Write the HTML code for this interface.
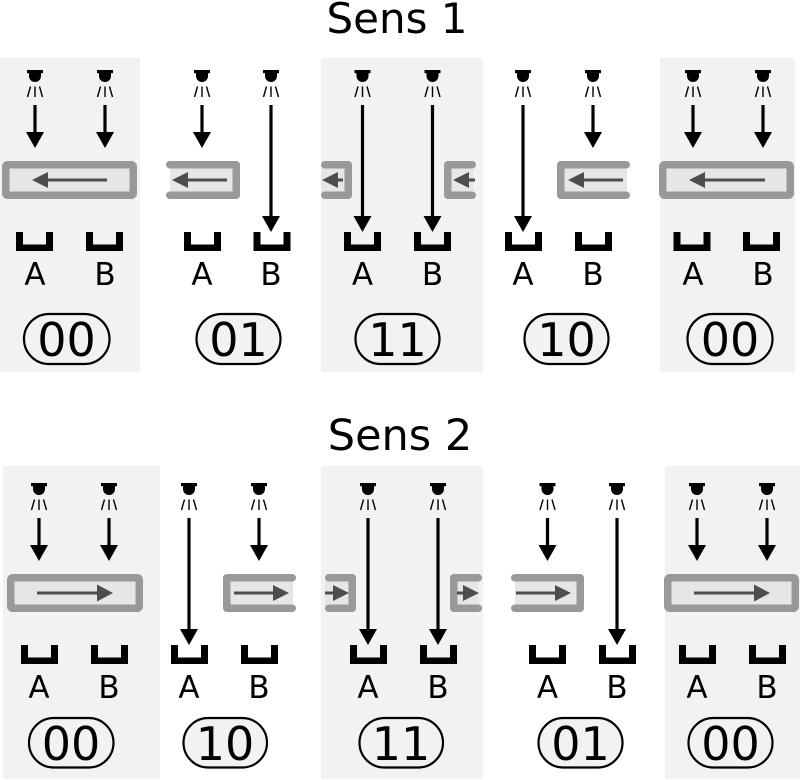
<!DOCTYPE html>
<html><head><meta charset="utf-8"><style>
html,body{margin:0;padding:0;background:#fff;}
svg{display:block;}
text{font-family:"DejaVu Sans","Liberation Sans",sans-serif;}
</style></head><body>
<svg width="800" height="780" viewBox="0 0 800 780" xmlns="http://www.w3.org/2000/svg">
<defs>
<g id="lamp">
<rect x="-8" y="0" width="16" height="3.2" fill="#000"/>
<path d="M-6,3 V6 A6,6 0 0 0 6,6 V3 Z" fill="#000"/>
<g stroke="#000" stroke-width="1.4"><line x1="-4.5" y1="16.5" x2="-7.5" y2="27"/><line x1="0" y1="16.5" x2="0" y2="27"/><line x1="4.5" y1="16.5" x2="7.5" y2="27"/></g>
</g>
<path id="sensor" d="M-18.5,0 H-11.5 V12.5 H11.5 V0 H18.5 V19 H-18.5 Z" fill="#000"/>
</defs>

<!-- gray panels -->
<g fill="#f2f2f2">
<rect x="0" y="58" width="140" height="314"/>
<rect x="321" y="58" width="162" height="314"/>
<rect x="660" y="58" width="135" height="314"/>
<rect x="3" y="466" width="157" height="313"/>
<rect x="321" y="466" width="162" height="313"/>
<rect x="665" y="466" width="135" height="313"/>
</g>

<text x="397" y="33" font-size="42" text-anchor="middle">Sens 1</text>
<text x="400" y="450" font-size="43" text-anchor="middle">Sens 2</text>

<!-- ===== TOP ROW ===== -->
<g stroke="#999" stroke-width="7.5" stroke-linejoin="round" stroke-linecap="round">
<rect x="5.75" y="164.75" width="127.5" height="30.5" rx="2" fill="#e6e6e6"/>
<rect x="170" y="166" width="66" height="28" fill="#e6e6e6" stroke="none"/>
<path d="M169.75,164.75 H236.25 V195.25 H169.75" fill="none"/>
<rect x="321" y="166" width="27" height="28" fill="#e6e6e6" stroke="none"/>
<path d="M324.75,164.75 H348.25 V195.25 H324.75" fill="none"/>
<rect x="448" y="166" width="25" height="28" fill="#e6e6e6" stroke="none"/>
<path d="M472.25,164.75 H447.75 V195.25 H472.25" fill="none"/>
<rect x="561" y="166" width="66" height="28" fill="#e6e6e6" stroke="none"/>
<path d="M626.25,164.75 H560.75 V195.25 H626.25" fill="none"/>
<rect x="662.75" y="164.75" width="127.5" height="30.5" rx="2" fill="#e6e6e6"/>
</g>
<g stroke="#4d4d4d" stroke-width="3">
<line x1="107" y1="180" x2="45" y2="180"/>
<line x1="227" y1="180" x2="185" y2="180"/>
<line x1="343" y1="180" x2="335" y2="180"/>
<line x1="475" y1="180" x2="466" y2="180"/>
<line x1="623" y1="180" x2="581" y2="180"/>
<line x1="765" y1="180" x2="702" y2="180"/>
</g>
<g fill="#4d4d4d">
<polygon points="32,180 48,172 48,188"/>
<polygon points="172,180 188,172 188,188"/>
<polygon points="322,180 338,172 338,188"/>
<polygon points="453,180 469,172 469,188"/>
<polygon points="568,180 584,172 584,188"/>
<polygon points="689,180 705,172 705,188"/>
</g>

<use href="#lamp" x="35" y="70"/><use href="#lamp" x="105" y="70"/>
<use href="#lamp" x="202" y="70"/><use href="#lamp" x="271" y="70"/>
<use href="#lamp" x="362.5" y="70"/><use href="#lamp" x="432.5" y="70"/>
<use href="#lamp" x="523" y="70"/><use href="#lamp" x="593" y="70"/>
<use href="#lamp" x="693" y="70"/><use href="#lamp" x="763" y="70"/>

<g stroke="#000" stroke-width="3.2">
<line x1="35" y1="105" x2="35" y2="134"/>
<line x1="105" y1="105" x2="105" y2="134"/>
<line x1="202" y1="105" x2="202" y2="134"/>
<line x1="271" y1="105" x2="271" y2="218"/>
<line x1="362.5" y1="105" x2="362.5" y2="218"/>
<line x1="432.5" y1="105" x2="432.5" y2="218"/>
<line x1="523" y1="105" x2="523" y2="218"/>
<line x1="593" y1="105" x2="593" y2="134"/>
<line x1="693" y1="105" x2="693" y2="134"/>
<line x1="763" y1="105" x2="763" y2="134"/>
</g>
<g fill="#000">
<polygon points="26,132 44,132 35,148"/>
<polygon points="96,132 114,132 105,148"/>
<polygon points="193,132 211,132 202,148"/>
<polygon points="262,216 280,216 271,232"/>
<polygon points="353.5,216 371.5,216 362.5,232"/>
<polygon points="423.5,216 441.5,216 432.5,232"/>
<polygon points="514,216 532,216 523,232"/>
<polygon points="584,132 602,132 593,148"/>
<polygon points="684,132 702,132 693,148"/>
<polygon points="754,132 772,132 763,148"/>
</g>

<use href="#sensor" x="34.5" y="232"/><use href="#sensor" x="104.5" y="232"/>
<use href="#sensor" x="202.5" y="232"/><use href="#sensor" x="272" y="232"/>
<use href="#sensor" x="362.5" y="232"/><use href="#sensor" x="432.5" y="232"/>
<use href="#sensor" x="523.5" y="232"/><use href="#sensor" x="593.5" y="232"/>
<use href="#sensor" x="692" y="232"/><use href="#sensor" x="761.5" y="232"/>

<g font-size="31" text-anchor="middle">
<text x="35" y="285">A</text><text x="105" y="285">B</text>
<text x="202" y="285">A</text><text x="271" y="285">B</text>
<text x="362.5" y="285">A</text><text x="432.5" y="285">B</text>
<text x="523" y="285">A</text><text x="593" y="285">B</text>
<text x="693" y="285">A</text><text x="763" y="285">B</text>
</g>

<g fill="#f2f2f2" stroke="#000" stroke-width="2.2">
<rect x="24" y="314" width="85.5" height="50" rx="25"/>
<rect x="196.5" y="314" width="84" height="50" rx="25"/>
<rect x="355.5" y="314" width="84" height="50" rx="25"/>
<rect x="524.5" y="314" width="84" height="50" rx="25"/>
<rect x="687.5" y="314" width="85" height="50" rx="25"/>
</g>
<g font-size="46" text-anchor="middle">
<text x="66.5" y="356">00</text>
<text x="238.5" y="356">01</text>
<text x="397.5" y="356">11</text>
<text x="566.5" y="356">10</text>
<text x="730" y="356">00</text>
</g>

<!-- ===== BOTTOM ROW ===== -->
<g stroke="#999" stroke-width="7.5" stroke-linejoin="round" stroke-linecap="round">
<rect x="10.75" y="577.75" width="128.5" height="30.5" rx="2" fill="#e6e6e6"/>
<rect x="227" y="579" width="66" height="28" fill="#e6e6e6" stroke="none"/>
<path d="M292.25,577.75 H226.75 V608.25 H292.25" fill="none"/>
<rect x="325" y="579" width="27" height="28" fill="#e6e6e6" stroke="none"/>
<path d="M328.75,577.75 H352.25 V608.25 H328.75" fill="none"/>
<rect x="454" y="579" width="25" height="28" fill="#e6e6e6" stroke="none"/>
<path d="M478.25,577.75 H453.75 V608.25 H478.25" fill="none"/>
<rect x="515" y="579" width="66" height="28" fill="#e6e6e6" stroke="none"/>
<path d="M514.75,577.75 H580.25 V608.25 H514.75" fill="none"/>
<rect x="667.75" y="577.75" width="127.5" height="30.5" rx="2" fill="#e6e6e6"/>
</g>
<g stroke="#4d4d4d" stroke-width="3">
<line x1="37" y1="593" x2="99" y2="593"/>
<line x1="234" y1="593" x2="276" y2="593"/>
<line x1="325" y1="593" x2="336" y2="593"/>
<line x1="457" y1="593" x2="466" y2="593"/>
<line x1="516" y1="593" x2="558" y2="593"/>
<line x1="694" y1="593" x2="757" y2="593"/>
</g>
<g fill="#4d4d4d">
<polygon points="113,593 97,584.5 97,601.5"/>
<polygon points="289,593 273,585 273,601"/>
<polygon points="349,593 333,585 333,601"/>
<polygon points="479,593 463,585 463,601"/>
<polygon points="571,593 555,585 555,601"/>
<polygon points="770,593 754,584.5 754,601.5"/>
</g>

<use href="#lamp" x="39" y="483"/><use href="#lamp" x="109" y="483"/>
<use href="#lamp" x="189" y="483"/><use href="#lamp" x="259" y="483"/>
<use href="#lamp" x="368" y="483"/><use href="#lamp" x="438" y="483"/>
<use href="#lamp" x="547.5" y="483"/><use href="#lamp" x="617" y="483"/>
<use href="#lamp" x="697" y="483"/><use href="#lamp" x="767" y="483"/>

<g stroke="#000" stroke-width="3.2">
<line x1="39" y1="518" x2="39" y2="547"/>
<line x1="109" y1="518" x2="109" y2="547"/>
<line x1="189" y1="518" x2="189" y2="631"/>
<line x1="259" y1="518" x2="259" y2="547"/>
<line x1="368" y1="518" x2="368" y2="631"/>
<line x1="438" y1="518" x2="438" y2="631"/>
<line x1="547.5" y1="518" x2="547.5" y2="547"/>
<line x1="617" y1="518" x2="617" y2="631"/>
<line x1="697" y1="518" x2="697" y2="547"/>
<line x1="767" y1="518" x2="767" y2="547"/>
</g>
<g fill="#000">
<polygon points="30,545 48,545 39,561"/>
<polygon points="100,545 118,545 109,561"/>
<polygon points="180,629 198,629 189,645"/>
<polygon points="250,545 268,545 259,561"/>
<polygon points="359,629 377,629 368,645"/>
<polygon points="429,629 447,629 438,645"/>
<polygon points="538.5,545 556.5,545 547.5,561"/>
<polygon points="608,629 626,629 617,645"/>
<polygon points="688,545 706,545 697,561"/>
<polygon points="758,545 776,545 767,561"/>
</g>

<use href="#sensor" x="39.5" y="645"/><use href="#sensor" x="109.5" y="645"/>
<use href="#sensor" x="189.5" y="645"/><use href="#sensor" x="259.5" y="645"/>
<use href="#sensor" x="368.5" y="645"/><use href="#sensor" x="438.5" y="645"/>
<use href="#sensor" x="547.5" y="645"/><use href="#sensor" x="617.5" y="645"/>
<use href="#sensor" x="697.5" y="645"/><use href="#sensor" x="767.5" y="645"/>

<g font-size="31" text-anchor="middle">
<text x="39" y="698">A</text><text x="109" y="698">B</text>
<text x="189" y="698">A</text><text x="259" y="698">B</text>
<text x="368" y="698">A</text><text x="438" y="698">B</text>
<text x="547.5" y="698">A</text><text x="617" y="698">B</text>
<text x="697" y="698">A</text><text x="767" y="698">B</text>
</g>

<g fill="#f2f2f2" stroke="#000" stroke-width="2.2">
<rect x="29" y="718" width="84.5" height="49.5" rx="24.75"/>
<rect x="183.5" y="718" width="83.5" height="49.5" rx="24.75"/>
<rect x="359.5" y="718" width="83.5" height="49.5" rx="24.75"/>
<rect x="538.5" y="718" width="84" height="49.5" rx="24.75"/>
<rect x="688.5" y="718" width="84" height="49.5" rx="24.75"/>
</g>
<g font-size="46" text-anchor="middle">
<text x="71" y="760">00</text>
<text x="225" y="760">10</text>
<text x="401" y="760">11</text>
<text x="580.5" y="760">01</text>
<text x="730.5" y="760">00</text>
</g>
</svg>
</body></html>
